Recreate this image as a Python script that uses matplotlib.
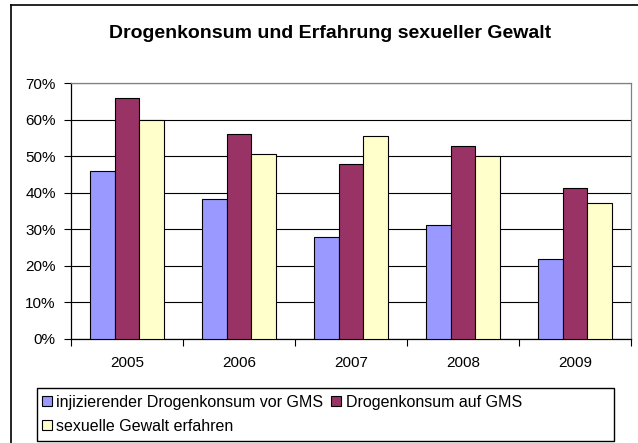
import numpy as np
import matplotlib
matplotlib.use("Agg")
from matplotlib import pyplot as plt
from matplotlib.patches import Rectangle
from matplotlib.lines import Line2D

# data
years = ['2005', '2006', '2007', '2008', '2009']
inj_vor_gms = [46, 38.4, 28, 31.3, 21.8]
drogen_auf_gms = [66, 56, 47.8, 52.7, 41.3]
sex_gewalt = [60, 50.7, 55.4, 50.1, 37.2]
labels = ['injizierender Drogenkonsum vor GMS', 'Drogenkonsum auf GMS',
          'sexuelle Gewalt erfahren']
colors = ['#9999FF', '#993366', '#FFFFCC']

plt.rcParams['font.family'] = ['Liberation Sans', 'DejaVu Sans']
plt.rcParams['font.size'] = 11

fig = plt.figure(figsize=(6.38, 4.43), dpi=100)
W, H = 638, 443
ax = fig.add_axes([71 / W, 1 - 339 / H, (631 - 71) / W, (339 - 83) / H])

x = np.arange(len(years))
bw = 0.22
handles = []
for i, (vals, c) in enumerate(zip([inj_vor_gms, drogen_auf_gms, sex_gewalt], colors)):
    b = ax.bar(x + (i - 1) * bw, vals, bw, color=c, edgecolor='black',
               linewidth=0.8, label=labels[i], zorder=3)
    handles.append(b)

ax.set_xlim(-0.5, len(years) - 0.5)
ax.set_ylim(0, 70)
ax.set_yticks(np.arange(0, 71, 10))
ax.set_yticklabels(['%d%%' % v for v in range(0, 71, 10)])
ax.yaxis.grid(True, color='black', linewidth=0.8, zorder=0)

# category ticks between groups, labels centred
ax.set_xticks(np.arange(-0.5, len(years), 1))
ax.set_xticklabels([])
ax.set_xticks(x, minor=True)
ax.set_xticklabels(years, minor=True)
ax.tick_params(axis='x', which='minor', length=0, pad=12)
ax.tick_params(axis='x', which='major', length=5, width=0.8, direction='out')
ax.tick_params(axis='y', length=5, width=0.8, direction='out', pad=6)

for s in ['top', 'right']:
    ax.spines[s].set_color('#808080')
    ax.spines[s].set_linewidth(0.9)
for s in ['left', 'bottom']:
    ax.spines[s].set_color('black')
    ax.spines[s].set_linewidth(0.9)

fig.text(330 / W, 1 - 33 / H, 'Drogenkonsum und Erfahrung sexueller Gewalt',
         ha='center', va='center', fontsize=14, fontweight='bold')

# outer chart border (left and top visible)
fig.add_artist(Line2D([11 / W, 11 / W], [0, 1 - 5 / H], transform=fig.transFigure,
                      color='black', linewidth=1.2))
fig.add_artist(Line2D([11 / W, 1], [1 - 5 / H, 1 - 5 / H], transform=fig.transFigure,
                      color='black', linewidth=1.2))

# legend box
fig.add_artist(Rectangle((37 / W, 1 - 441 / H), (614 - 37) / W, (441 - 388) / H,
                         transform=fig.transFigure, facecolor='white',
                         edgecolor='black', linewidth=1.0))
leg = fig.legend([handles[0], handles[2], handles[1]],
                 [labels[0], labels[2], labels[1]],
                 ncol=2, loc='upper left', bbox_to_anchor=(42 / W, 1 - 395 / H),
                 frameon=False, fontsize=11.5, handlelength=0.6, handleheight=0.6,
                 handletextpad=0.3, columnspacing=0.5, labelspacing=0.55,
                 borderaxespad=0, borderpad=0)

fig.savefig('out.png', dpi=100)
